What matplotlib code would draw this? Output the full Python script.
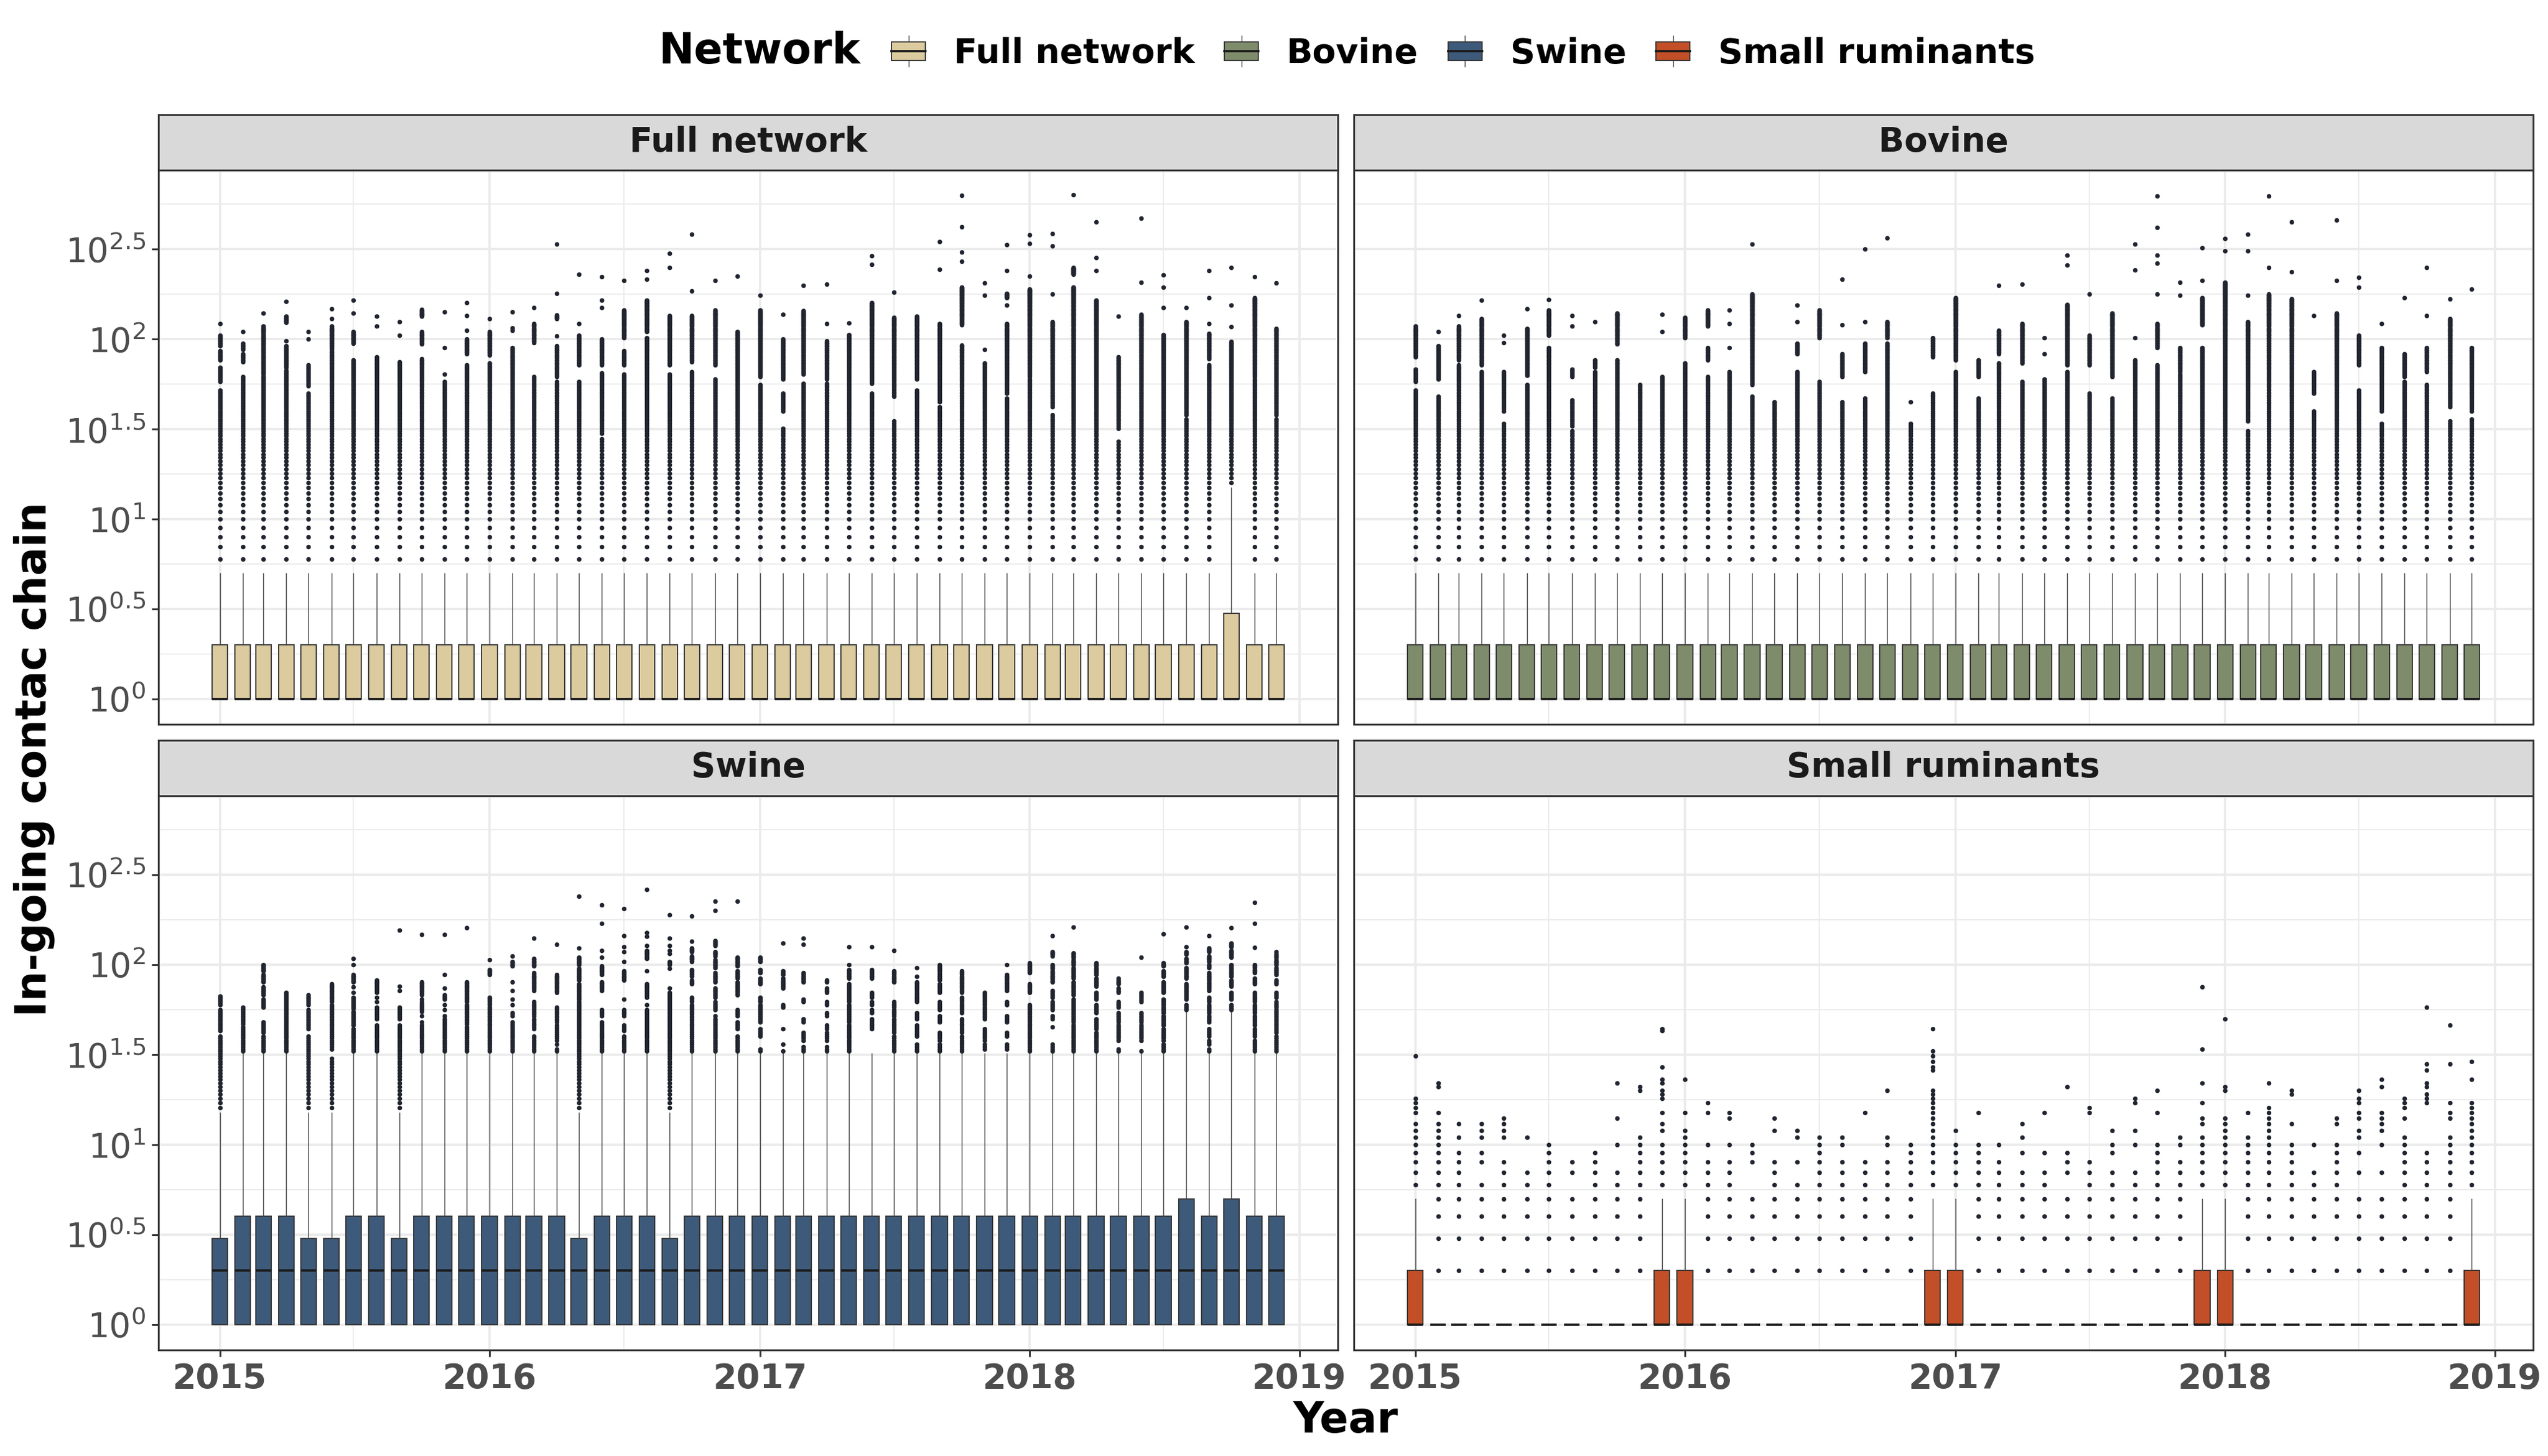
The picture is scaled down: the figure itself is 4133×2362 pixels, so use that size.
import matplotlib
matplotlib.use("Agg")
import matplotlib.pyplot as plt
import matplotlib.dates as mdates
import numpy as np
import pandas as pd
from matplotlib.patches import Patch, Rectangle
from matplotlib.lines import Line2D
from matplotlib.legend_handler import HandlerBase

# ---- data -------------------------------------------------------------
months = pd.date_range("2015-01-01", periods=48, freq="MS")
year_labels = ["2015", "2016", "2017", "2018", "2019"]
ytick_exp = [0, 0.5, 1, 1.5, 2, 2.5]
networks = ["Full network", "Bovine", "Swine", "Small ruminants"]
net_colors = ["#DBCB9F", "#7E8C6C", "#3D5A7A", "#C24F27"]

# box statistics per month (counts)
full_q1 = [1, 1, 1, 1, 1, 1, 1, 1, 1, 1, 1, 1, 1, 1, 1, 1, 1, 1, 1, 1, 1, 1, 1, 1,
           1, 1, 1, 1, 1, 1, 1, 1, 1, 1, 1, 1, 1, 1, 1, 1, 1, 1, 1, 1, 1, 1, 1, 1]
full_med = full_q1
full_q3 = [2, 2, 2, 2, 2, 2, 2, 2, 2, 2, 2, 2, 2, 2, 2, 2, 2, 2, 2, 2, 2, 2, 2, 2,
           2, 2, 2, 2, 2, 2, 2, 2, 2, 2, 2, 2, 2, 2, 2, 2, 2, 2, 2, 2, 2, 3, 2, 2]
full_hi = [5, 5, 5, 5, 5, 5, 5, 5, 5, 5, 5, 5, 5, 5, 5, 5, 5, 5, 5, 5, 5, 5, 5, 5,
           5, 5, 5, 5, 5, 5, 5, 5, 5, 5, 5, 5, 5, 5, 5, 5, 5, 5, 5, 5, 5, 15, 5, 5]

bov_q1 = full_q1
bov_med = full_q1
bov_q3 = [2, 2, 2, 2, 2, 2, 2, 2, 2, 2, 2, 2, 2, 2, 2, 2, 2, 2, 2, 2, 2, 2, 2, 2,
          2, 2, 2, 2, 2, 2, 2, 2, 2, 2, 2, 2, 2, 2, 2, 2, 2, 2, 2, 2, 2, 2, 2, 2]
bov_hi = [5, 5, 5, 5, 5, 5, 5, 5, 5, 5, 5, 5, 5, 5, 5, 5, 5, 5, 5, 5, 5, 5, 5, 5,
          5, 5, 5, 5, 5, 5, 5, 5, 5, 5, 5, 5, 5, 5, 5, 5, 5, 5, 5, 5, 5, 5, 5, 5]

sw_q1 = full_q1
sw_med = [2, 2, 2, 2, 2, 2, 2, 2, 2, 2, 2, 2, 2, 2, 2, 2, 2, 2, 2, 2, 2, 2, 2, 2,
          2, 2, 2, 2, 2, 2, 2, 2, 2, 2, 2, 2, 2, 2, 2, 2, 2, 2, 2, 2, 2, 2, 2, 2]
sw_q3 = [3, 4, 4, 4, 3, 3, 4, 4, 3, 4, 4, 4, 4, 4, 4, 4, 3, 4, 4, 4, 3, 4, 4, 4,
         4, 4, 4, 4, 4, 4, 4, 4, 4, 4, 4, 4, 4, 4, 4, 4, 4, 4, 4, 5, 4, 5, 4, 4]
sw_hi = [15, 32, 32, 32, 15, 15, 32, 32, 15, 32, 32, 32, 32, 32, 32, 32, 15, 32, 32, 32,
         15, 32, 32, 32, 32, 32, 32, 32, 32, 32, 32, 32, 32, 32, 32, 32, 32, 32, 32, 32,
         32, 32, 32, 55, 32, 55, 32, 32]

sr_q1 = full_q1
sr_med = full_q1
sr_q3 = [2, 1, 1, 1, 1, 1, 1, 1, 1, 1, 1, 2, 2, 1, 1, 1, 1, 1, 1, 1, 1, 1, 1, 2,
         2, 1, 1, 1, 1, 1, 1, 1, 1, 1, 1, 2, 2, 1, 1, 1, 1, 1, 1, 1, 1, 1, 1, 2]
sr_hi = [5, 1, 1, 1, 1, 1, 1, 1, 1, 1, 1, 5, 5, 1, 1, 1, 1, 1, 1, 1, 1, 1, 1, 5,
         5, 1, 1, 1, 1, 1, 1, 1, 1, 1, 1, 5, 5, 1, 1, 1, 1, 1, 1, 1, 1, 1, 1, 5]

# outliers: single values, or (a, b) = every integer count from a to b observed
full_out = [
    [(6, 52), (58, 70), (77, 86), (92, 105), 122],
    [(6, 62), (75, 83), (88, 95), 110],
    [(6, 62), (64, 76), (78, 90), (92, 105), (108, 118), 140],
    [(6, 67), (70, 92), 98, (124, 134), 162],
    [(6, 50), (55, 72), 100, 110],
    [(6, 86), (88, 118), 130, 148],
    [(6, 77), (95, 110), 140, 165],
    [(6, 80), 118, 134],
    [(6, 75), 105, 125],
    [(6, 78), (94, 110), (134, 146)],
    [(6, 58), 64, 90, 142],
    [(6, 72), (83, 100), 112, 135, 160],
    [(6, 74), (82, 110), 130],
    [(6, 90), 112, 116, 142],
    [(6, 62), (96, 122), 150],
    [(6, 58), (62, 92), 104, (130, 136), 180, 338],
    [(6, 58), (72, 105), 122, 230],
    [(6, 28), (30, 65), (72, 100), 150, 165, 222],
    [(6, 64), (72, 86), (102, 145), 212],
    [(6, 102), (110, 165), 215, 240],
    [(6, 64), (72, 135), 250, 300],
    [(6, 66), (75, 135), 185, 383],
    [(6, 60), (72, 145), 212],
    [(6, 110), 225],
    [(6, 56), (62, 145), 175],
    [(6, 32), (40, 50), (60, 100), 138],
    [(6, 57), (64, 144), 200],
    [(6, 57), (60, 98), 122, 203],
    [(6, 106), 123],
    [(6, 50), (57, 160), 260, 290],
    [(6, 35), (48, 132), 182],
    [(6, 52), (60, 134)],
    [(6, 42), (45, 122), 245, 350],
    [(6, 93), (120, 195), 270, 305, 420, 630],
    [(6, 74), 88, 175, 205],
    [(6, 47), (50, 122), 155, (170, 180), 240, 335],
    [(6, 60), (62, 190), 225, 340, 380],
    [(6, 38), (42, 125), 178, 330, 385],
    [(6, 195), (230, 250), 637],
    [(6, 165), 240, 285, 450],
    [(6, 27), (32, 80), 134],
    [(6, 137), 207, 470],
    [(6, 106), 150, 195, 227],
    [(6, 36), (38, 125), 150],
    [(6, 72), (78, 108), 122, 170, 240],
    [(16, 97), 117, 155, 250],
    [(6, 60), (62, 170), 222],
    [(6, 36), (38, 115), 205],
]

bov_out = [
    [(6, 52), (58, 68), (80, 118)],
    [(6, 48), (60, 92), 110],
    [(6, 72), (77, 118), 135],
    [(6, 66), (72, 130), 165],
    [(6, 34), (40, 66), 96, 105],
    [(6, 56), (63, 115), 148],
    [(6, 90), (105, 145), 166],
    [(6, 31), (33, 46), (62, 68), 118, 135],
    [(6, 66), (70, 77), 125],
    [(6, 77), (94, 140)],
    [(6, 56)],
    [(6, 62), 110, 137],
    [(6, 74), (102, 132)],
    [(6, 62), (77, 90), (118, 145)],
    [(6, 66), 90, 122, 145],
    [(6, 48), (56, 178), 338],
    [(6, 45)],
    [(6, 66), (83, 95), 125, 155],
    [(6, 58), (102, 145)],
    [(6, 45), (62, 83), 120, 215],
    [(6, 47), (66, 95), 125, 318],
    [(6, 95), (102, 125), 365],
    [(6, 34), 45],
    [(6, 50), (80, 102)],
    [(6, 66), (77, 170)],
    [(6, 47), (62, 77)],
    [(6, 74), (83, 112), 200],
    [(6, 58), (74, 122), 203],
    [(6, 60), 83, 102],
    [(6, 66), (72, 156), 258, 294],
    [(6, 50), (72, 105), 178],
    [(6, 47), (62, 140)],
    [(6, 77), 102, 242, 338],
    [(6, 72), (90, 122), 178, 265, 294, 418, 627],
    [(6, 64), (66, 90), 175, 207],
    [(6, 90), (120, 170), 212, 323],
    [(6, 207), 310, 362],
    [(6, 31), (35, 125), 175, 310, 383],
    [(6, 178), 250, 627],
    [(6, 168), 237, 450],
    [(6, 40), (50, 66), 135],
    [(6, 140), 212, 460],
    [(6, 52), (72, 105), 195, 220],
    [(6, 34), (40, 90), 122],
    [(6, 58), (62, 83), 170],
    [(6, 56), (66, 90), 135, 250],
    [(6, 35), (42, 130), 168],
    [(6, 36), (40, 90), 190],
]

sw_out = [
    [(16, 40), (43, 56), (60, 67)],
    [(33, 45), (47, 58)],
    [(33, 40), (42, 48), (58, 64), (68, 75), (80, 88), (92, 100)],
    [(33, 70)],
    [(16, 40), (44, 56), (60, 68)],
    [(16, 30), (34, 60), (62, 78)],
    [(33, 44), (46, 55), (57, 66), 70, 75, (80, 88), 100, 108],
    [(33, 46), (50, 58), 62, 66, (70, 82)],
    [(16, 46), (50, 58), 72, 76, 155],
    [(33, 46), 48, 52, (55, 62), 64, (68, 80), 147],
    [(33, 50), 52, 56, 60, (64, 68), 74, 88, 147],
    [(33, 45), (47, 60), (62, 80), 160],
    [(33, 58), (60, 66), (88, 94), 106],
    [(33, 48), (52, 54), 60, 64, 72, 80, (98, 104), 112],
    [(33, 40), (44, 50), (52, 62), (72, 90), (98, 108), 140],
    [(33, 34), 36, (38, 46), (48, 58), (70, 88), 130],
    [(16, 62), (64, 78), (82, 95), (100, 110), 124, 240],
    [(33, 48), (52, 56), (72, 80), (88, 98), 110, 120, 170, 215],
    [(33, 40), (43, 46), (52, 56), 64, (82, 92), 104, 118, 126, 145, 205],
    [(33, 56), 60, (66, 78), 92, (108, 120), 128, 144, 150, 262],
    [(16, 70), 74, 95, (100, 104), 115, 120, 128, 140, 190],
    [(33, 60), (62, 66), (78, 82), (86, 94), (104, 112), (118, 124), 135, 187],
    [(33, 50), 52, (56, 62), (66, 74), (80, 90), (96, 106), (112, 118), (128, 136), 200, 225],
    [(33, 40), (44, 48), (52, 56), (68, 80), (84, 92), (98, 110), 225],
    [(33, 34), (40, 44), (48, 60), (62, 66), (78, 84), (90, 94), (104, 110)],
    [33, 36, 44, (58, 60), (74, 82), 84, (88, 92), 132],
    [(33, 35), (38, 42), (48, 50), (62, 64), (80, 86), (88, 90), 130, 140],
    [(33, 35), (38, 42), (44, 46), (52, 54), (60, 62), (70, 74), (80, 82)],
    [(33, 46), (48, 60), (62, 70), (72, 78), (84, 94), 100, 126],
    [(44, 50), (54, 56), (60, 62), (66, 70), (84, 92), 94, 126],
    [(33, 40), (42, 50), (52, 56), (58, 62), (80, 86), (88, 92), 120],
    [(33, 36), (40, 46), (50, 54), (62, 70), (72, 80), 86, 96],
    [(33, 36), (38, 42), (48, 52), (56, 62), (70, 78), (82, 90), (92, 100)],
    [(33, 40), (42, 50), (54, 66), (70, 86), (88, 92)],
    [(34, 36), (38, 44), (50, 58), (60, 64), (66, 70)],
    [(34, 36), (40, 42), (48, 52), (60, 62), (72, 80), (82, 88), 100],
    [(33, 60), (70, 78), (90, 102)],
    [(33, 36), 45, (50, 52), (56, 62), (66, 72), (80, 92), (95, 100), (112, 118), 145],
    [(33, 46), (48, 64), (68, 80), (84, 96), (100, 106), (110, 116), 162],
    [(33, 42), (44, 50), (54, 60), (64, 70), (76, 84), (88, 96), (98, 102)],
    [(33, 34), (38, 46), (48, 54), (58, 62), (70, 74), (78, 82), 84],
    [33, (38, 46), (48, 54), (62, 64), (66, 70), 110],
    [(33, 36), (38, 44), (46, 52), (54, 58), (60, 64), (70, 80), (86, 92), (98, 102), 148],
    [(56, 60), (64, 78), (84, 96), (102, 108), (114, 118), 126, 162],
    [(33, 34), (36, 38), (40, 44), (48, 52), (54, 60), (62, 66), (72, 80), (82, 90),
     (96, 100), (104, 112), (118, 124), 145],
    [(56, 60), (64, 70), (76, 82), (86, 92), (94, 100), (110, 120), (126, 132), 160],
    [(33, 34), (35, 38), (40, 44), (46, 52), (54, 60), (62, 70), (78, 84), (90, 94),
     (96, 100), 125, 169, 222],
    [(33, 40), (42, 56), (58, 62), (66, 70), (78, 82), (88, 96), (100, 106), (110, 114), 118],
]

sr_out = [
    [(6, 13), (15, 18), 31],
    [(2, 13), 15, 21, 22],
    [(2, 9), 11, 13],
    [(2, 6), (8, 9), (11, 13)],
    [(2, 8), (11, 14)],
    [(2, 7), 11],
    [(2, 10)],
    [(2, 5), 7, 8],
    [(2, 9)],
    [(2, 7), 10, 14, 22],
    [(2, 11), 20, 21],
    [(6, 10), 12, 13, 15, 18, 19, 20, 22, 23, 27, 43, 44],
    [(6, 12), 15, 23],
    [(2, 8), 10, 15, 17],
    [(2, 8), 10, 14, 15],
    [(2, 5), (8, 10)],
    [(2, 8), 12, 14],
    [(2, 6), 8, 11, 12],
    [(2, 11)],
    [(2, 8), 10, 11],
    [(2, 8), 15],
    [(2, 8), 10, 11, 20],
    [(2, 10)],
    [(6, 20), 26, 27, 29, 31, 33, 44],
    [(6, 10), 12],
    [(2, 10), 15],
    [(2, 8), 10],
    [(2, 7), 9, 11, 13],
    [(2, 7), 9, 15],
    [(2, 5), (7, 9), 21],
    [(2, 8), 15, 16],
    [(2, 7), 9, 10, 12],
    [(2, 7), 10, 12, 17, 18],
    [(2, 10), 15, 20],
    [(2, 8), 10, 11],
    [(6, 11), 13, 14, 17, 22, 34, 75],
    [(6, 14), 20, 21, 50],
    [(2, 11), 15],
    [(2, 16), 22],
    [(2, 10), 13, 19, 20],
    [(2, 7), 10],
    [(2, 10), 13, 14],
    [(2, 5), 7, 9, 11, 12, 14, 15, 17, 18, 20],
    [(2, 5), 7, 10, (12, 15), 21, 23],
    [(2, 11), 14, (16, 18)],
    [(2, 9), (17, 19), 21, 22, 26, 28, 58],
    [(2, 11), 14, 15, 17, 28, 46],
    [(6, 17), 23, 29],
]

panel_stats = [
    (full_q1, full_med, full_q3, full_hi, full_out),
    (bov_q1, bov_med, bov_q3, bov_hi, bov_out),
    (sw_q1, sw_med, sw_q3, sw_hi, sw_out),
    (sr_q1, sr_med, sr_q3, sr_hi, sr_out),
]


def expand(spec):
    vals = []
    for s in spec:
        if isinstance(s, tuple):
            vals.extend(range(s[0], s[1] + 1))
        else:
            vals.append(s)
    return np.array(vals, dtype=float)


# ---- figure -------------------------------------------------------------
W, H = 4133, 2362
DPI = 300
fig = plt.figure(figsize=(W / DPI, H / DPI), dpi=DPI)
plt.rcParams['font.family'] = ['DejaVu Sans']
plt.rcParams['mathtext.fontset'] = 'dejavusans'

DARK = "#333333"
GRID = "#EBEBEB"
TICKCOL = "#4D4D4D"
PTCOL = "#20252F"


def px_axes(x0, y0, x1, y1):
    return fig.add_axes([x0 / W, 1 - y1 / H, (x1 - x0) / W, (y1 - y0) / H])


boxes = [(257, 276, 2170, 1175), (2196, 276, 4109, 1175),
         (257, 1290.5, 2170, 2189.5), (2196, 1290.5, 4109, 2189.5)]
strip_h = 90

pos = mdates.date2num(months.to_pydatetime())
box_w = 21
margin = 83.05
x_lo = pos[0] - margin
x_hi = pos[-1] + margin
year_pos = mdates.date2num(pd.to_datetime([y + "-01-01" for y in year_labels]).to_pydatetime())
half_pos = mdates.date2num(pd.to_datetime([y + "-07-01" for y in year_labels[:-1]]).to_pydatetime())

for k, (name, col, st) in enumerate(zip(networks, net_colors, panel_stats)):
    x0, y0, x1, y1 = boxes[k]
    ax = px_axes(x0, y0, x1, y1)
    q1, med, q3, hi, out = st
    stats = []
    for i in range(len(pos)):
        stats.append(dict(q1=q1[i], med=med[i], q3=q3[i], whislo=q1[i], whishi=hi[i],
                          fliers=expand(out[i])))
    ax.set_yscale('log')
    ax.bxp(stats, positions=pos, widths=box_w, showcaps=False, patch_artist=True,
           manage_ticks=False,
           boxprops=dict(facecolor=col, edgecolor=DARK, linewidth=0.45),
           medianprops=dict(color="#1A1A1A", linewidth=0.9),
           whiskerprops=dict(color="#444444", linewidth=0.35),
           flierprops=dict(marker='o', markersize=1.8, markerfacecolor=PTCOL,
                           markeredgecolor='none', linestyle='none'))
    ax.set_xlim(x_lo, x_hi)
    ax.set_ylim(10 ** -0.14, 10 ** 2.94)

    ax.set_yticks([10 ** e for e in ytick_exp])
    ax.set_yticks([10 ** (e + 0.25) for e in ytick_exp], minor=True)
    ax.set_yticklabels(["$10^{%g}$" % e for e in ytick_exp])
    ax.set_xticks(year_pos)
    ax.set_xticks(half_pos, minor=True)
    ax.set_xticklabels(year_labels, fontweight='bold')

    ax.set_axisbelow(True)
    ax.grid(which='major', color=GRID, linewidth=0.9)
    ax.grid(which='minor', color=GRID, linewidth=0.45)
    for sp in ax.spines.values():
        sp.set_color(DARK)
        sp.set_linewidth(0.7)
    ax.tick_params(which='major', length=2.75, width=0.7, color=DARK, pad=2.2,
                   labelsize=13.2, labelcolor=TICKCOL)
    ax.tick_params(which='minor', length=0)
    if k < 2:
        ax.tick_params(axis='x', which='major', length=0, labelbottom=False)
    if k % 2 == 1:
        ax.tick_params(axis='y', which='major', length=0, labelleft=False)

    # facet strip
    sh = strip_h / (y1 - y0)
    ax.add_patch(Rectangle((0, 1), 1, sh, transform=ax.transAxes, clip_on=False,
                           facecolor="#D9D9D9", edgecolor=DARK, linewidth=0.7))
    ax.text(0.5, 1 + sh / 2, name, transform=ax.transAxes, ha='center', va='center',
            fontsize=13.2, fontweight='bold', color="#1A1A1A")


# ---- legend -------------------------------------------------------------
class BoxKey(HandlerBase):
    def create_artists(self, legend, orig_handle, xdescent, ydescent, width, height,
                       fontsize, trans):
        cx = -xdescent + width / 2
        y0 = -ydescent
        bw = 0.75 * width
        wl = Line2D([cx, cx], [y0 + 0.1 * height, y0 + 0.9 * height],
                    color="#444444", linewidth=0.35, transform=trans)
        rect = Rectangle((cx - bw / 2, y0 + 0.25 * height), bw, 0.5 * height,
                         facecolor=orig_handle.get_facecolor(), edgecolor=DARK,
                         linewidth=0.45, transform=trans)
        md = Line2D([cx - bw / 2, cx + bw / 2], [y0 + 0.5 * height] * 2,
                    color="#1A1A1A", linewidth=0.9, transform=trans)
        return [wl, rect, md]


handles = [Patch(facecolor=c) for c in net_colors]
leg_y = 1 - 83 / H
fig.text(1069 / W, leg_y, "Network", fontsize=16.5, fontweight='bold',
         ha='left', va='center')
fig.legend(handles, networks, handler_map={Patch: BoxKey()}, loc='center left',
           bbox_to_anchor=(1437 / W, leg_y), ncol=4, frameon=False,
           prop=dict(size=13.4, weight='bold'), handlelength=1.32, handleheight=1.32,
           handletextpad=0.65, columnspacing=0.7, borderpad=0, borderaxespad=0)

# axis titles
fig.text(55 / W, 1 - 1232 / H, "In-going contac chain", rotation=90, fontsize=16.5,
         fontweight='bold', ha='center', va='center')
fig.text(2183 / W, 1 - 2324 / H, "Year", fontsize=16.5, fontweight='bold',
         ha='center', va='baseline')

fig.savefig("out.png", dpi=DPI)
